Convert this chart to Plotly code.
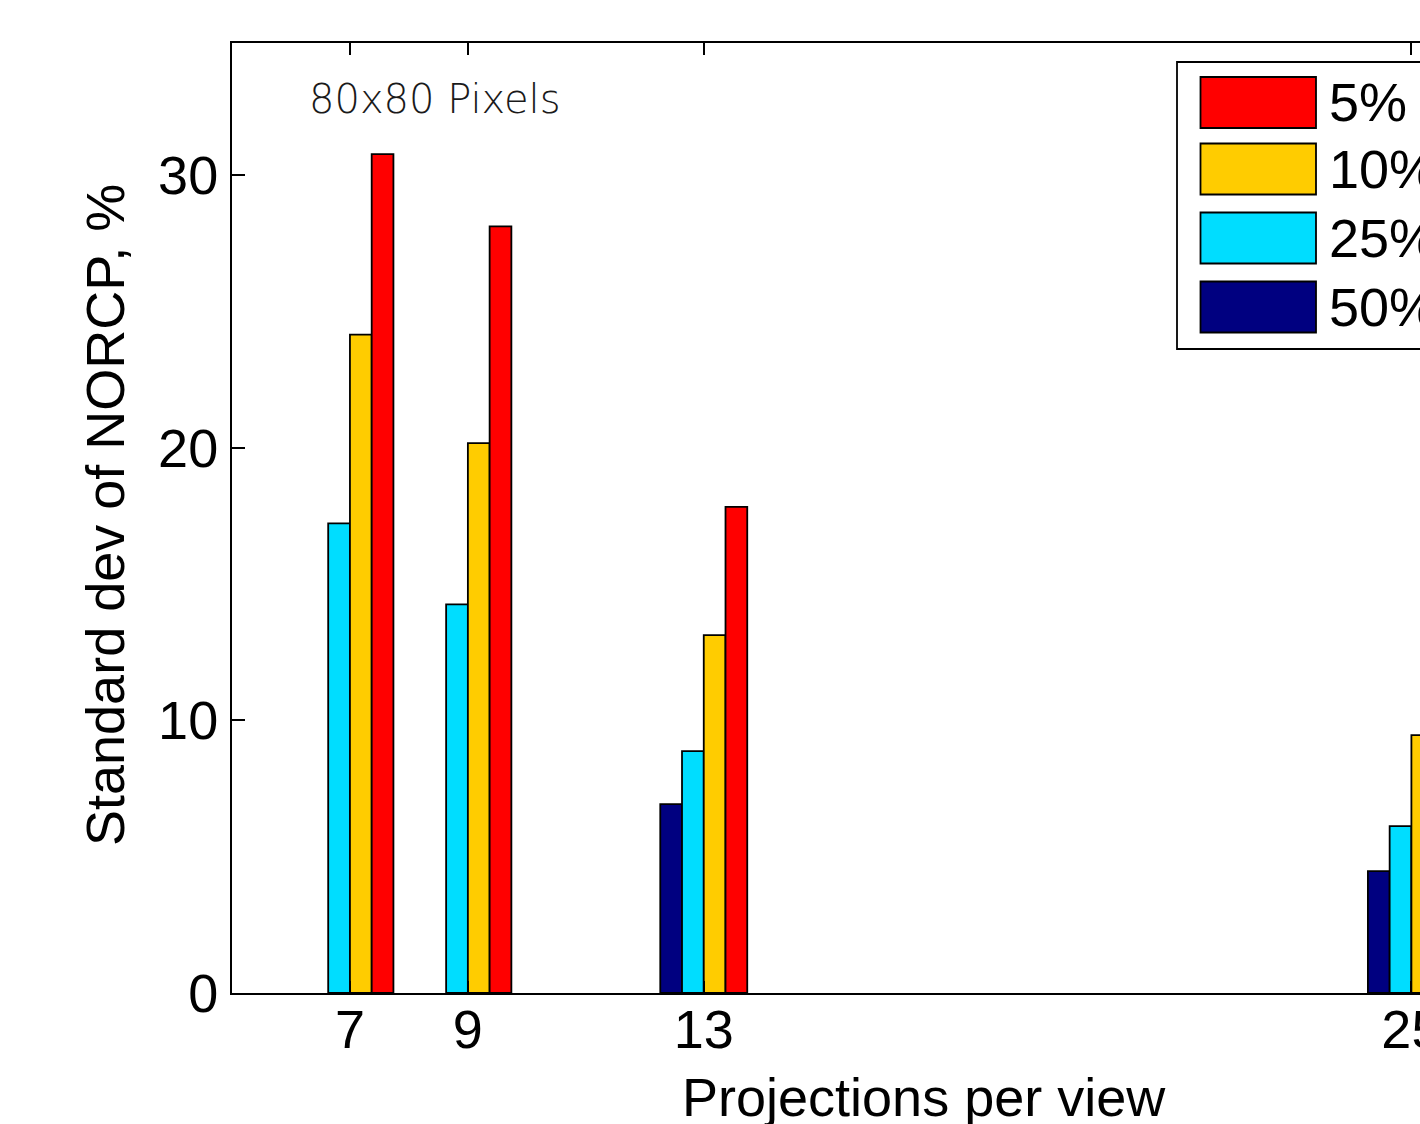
import plotly.graph_objects as go

# ---- data ----
projections = [7, 9, 13, 25]
series_names = ["50%", "25%", "10%", "5%"]
values_50 = [None, None, 6.93, 4.47]
values_25 = [17.23, 14.26, 8.87, 6.12]
values_10 = [24.15, 20.17, 13.13, 9.46]
values_5 = [30.77, 28.12, 17.83, 12.6]
series_values = [values_50, values_25, values_10, values_5]
series_colors = ["#000080", "#00DDFF", "#FFCC00", "#FF0000"]
y_ticks = [0, 10, 20, 30]

# ---- layout geometry (pixels) ----
W, H = 1420, 1124
L, T, BOT = 232, 43, 993          # plot area left / top / bottom edges
B = H - BOT
PW = W - L
PH = BOT - T
px_per_unit = 58.97
x0 = 5.0
x1 = x0 + PW / px_per_unit

def px(xs):
    return (xs - L) / PW

def py(ys):
    return (BOT - ys) / PH

FONT = "Liberation Sans, Arial, Helvetica, sans-serif"
FS = 54

fig = go.Figure()
for name, vals, col in zip(series_names, series_values, series_colors):
    fig.add_trace(go.Bar(
        x=projections, y=vals, name=name,
        marker=dict(color=col, line=dict(color="black", width=1.8)),
        showlegend=False,
    ))

fig.update_layout(
    width=W, height=H,
    margin=dict(l=L, r=0, t=T, b=B, pad=0, autoexpand=False),
    barmode="group", bargap=0.2625, bargroupgap=0,
    plot_bgcolor="white", paper_bgcolor="white",
    font=dict(family=FONT, size=FS, color="black"),
)
fig.update_xaxes(
    range=[x0, x1], tickmode="array", tickvals=projections,
    ticktext=[str(p) for p in projections],
    showgrid=False, zeroline=False, automargin=False,
    showline=True, linecolor="black", linewidth=2, mirror="ticks",
    ticks="inside", ticklen=12, tickwidth=1.5, tickcolor="black",
    tickfont=dict(family=FONT, size=FS, color="black"),
    ticklabelstandoff=-12, ticklabeloverflow="allow",
)
fig.update_yaxes(
    range=[0, 34.85], tickmode="array", tickvals=y_ticks,
    showgrid=False, zeroline=False, automargin=False,
    showline=True, linecolor="black", linewidth=2, mirror=False,
    ticks="inside", ticklen=13, tickwidth=1.5, tickcolor="black",
    tickfont=dict(family=FONT, size=FS, color="black"),
    ticklabelstandoff=1, ticklabeloverflow="allow",
)

# axis titles
fig.add_annotation(
    text="Projections per view", xref="paper", yref="paper",
    x=px(924), y=py(1097), xanchor="center", yanchor="middle",
    showarrow=False, font=dict(family=FONT, size=FS, color="black"),
)
fig.add_annotation(
    text="Standard dev of NORCP, %", xref="paper", yref="paper",
    x=px(105), y=py(515), xanchor="center", yanchor="middle", textangle=-90,
    showarrow=False, font=dict(family=FONT, size=FS, color="black"),
)
# panel label
fig.add_annotation(
    text="80x80 Pixels", xref="paper", yref="paper",
    x=px(307), y=py(99), xanchor="left", yanchor="middle",
    showarrow=False, font=dict(family="DejaVu Sans", size=40, color="#1a1a1a", weight=200),
)

# manual legend (large swatches, cropped at right like the reference)
fig.add_shape(type="rect", xref="paper", yref="paper",
              x0=px(1177), x1=px(1470), y0=py(349), y1=py(62),
              line=dict(color="black", width=1.8), fillcolor="white", layer="above")
row_tops = [77, 143.5, 212.5, 281.5]
legend_order = [3, 2, 1, 0]
for top, idx in zip(row_tops, legend_order):
    fig.add_shape(type="rect", xref="paper", yref="paper",
                  x0=px(1200.5), x1=px(1316), y0=py(top + 51), y1=py(top),
                  line=dict(color="black", width=1.8), fillcolor=series_colors[idx], layer="above")
    fig.add_annotation(text=series_names[idx], xref="paper", yref="paper",
                       x=px(1327), y=py(top + 25.5), xanchor="left", yanchor="middle",
                       showarrow=False, font=dict(family=FONT, size=FS, color="black"))

fig.write_html(
    "out.html",
    config={"displayModeBar": False},
    post_script="document.body.style.margin='0';document.body.style.overflow='hidden';",
)
